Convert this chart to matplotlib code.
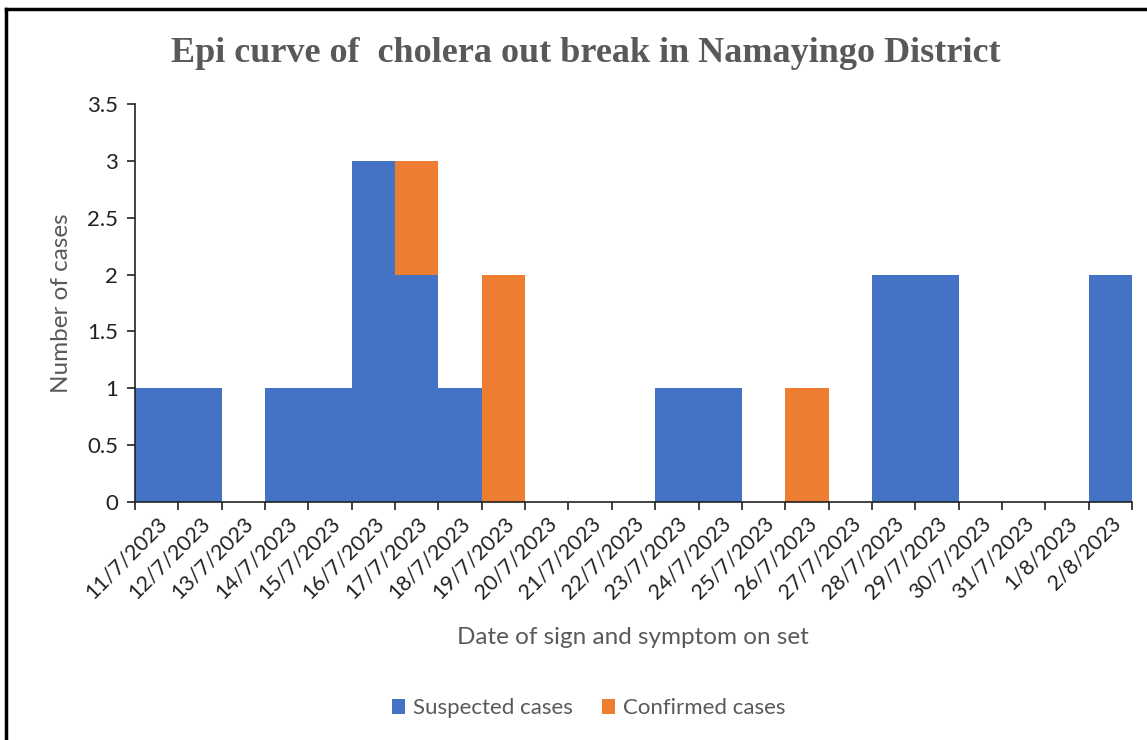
import matplotlib.pyplot as plt
from matplotlib.lines import Line2D

dates = ['11/7/2023', '12/7/2023', '13/7/2023', '14/7/2023', '15/7/2023',
         '16/7/2023', '17/7/2023', '18/7/2023', '19/7/2023', '20/7/2023',
         '21/7/2023', '22/7/2023', '23/7/2023', '24/7/2023', '25/7/2023',
         '26/7/2023', '27/7/2023', '28/7/2023', '29/7/2023', '30/7/2023',
         '31/7/2023', '1/8/2023', '2/8/2023']
suspected = [1, 1, 0, 1, 1, 3, 2, 1, 0, 0, 0, 0, 1, 1, 0, 0, 0, 2, 2, 0, 0, 0, 2]
confirmed = [0, 0, 0, 0, 0, 0, 1, 0, 2, 0, 0, 0, 0, 0, 0, 1, 0, 0, 0, 0, 0, 0, 0]

blue = '#4472C4'
orange = '#ED7D31'
gray = '#595959'
font = 'Lato'

fig = plt.figure(figsize=(11.47, 7.4), dpi=100)
ax = fig.add_axes([0.1177, 0.3216, 0.8692, 0.5378])

x = list(range(len(dates)))
ax.bar(x, suspected, width=1.0, color=blue, label='Suspected cases')
ax.bar(x, confirmed, width=1.0, bottom=suspected, color=orange, label='Confirmed cases')

ax.set_xlim(-0.5, len(dates) - 0.5)
ax.set_ylim(0, 3.5)
ax.set_yticks([0, 0.5, 1, 1.5, 2, 2.5, 3, 3.5])
ax.set_yticklabels(['0', '0.5', '1', '1.5', '2', '2.5', '3', '3.5'],
                   fontsize=16, family=font, color='#222222')

# ticks at category boundaries, labels at centres
ax.set_xticks([i - 0.5 for i in range(len(dates) + 1)])
ax.set_xticklabels([])
ax.set_xticks(x, minor=True)
ax.set_xticklabels(dates, minor=True, rotation=45, ha='right', va='top',
                   rotation_mode='anchor', fontsize=15.5, family=font, color='#222222')
ax.tick_params(axis='x', which='minor', length=0, pad=8)
ax.tick_params(axis='x', which='major', length=6, width=1.2, color='#222222')
ax.tick_params(axis='y', length=6, width=1.2, color='#222222', pad=6)

for s in ['top', 'right']:
    ax.spines[s].set_visible(False)
for s in ['left', 'bottom']:
    ax.spines[s].set_linewidth(1.2)
    ax.spines[s].set_color('#222222')

ax.set_ylabel('Number of cases', fontsize=17.5, family=font, color=gray, labelpad=11)
fig.text(0.552, 0.139, 'Date of sign and symptom on set', ha='center', va='center',
         fontsize=17.5, family=font, color=gray)

fig.suptitle('Epi curve of  cholera out break in Namayingo District', x=0.511, y=0.95,
             fontsize=26, family='Liberation Serif', color=gray, fontweight='semibold')

ax.legend(loc='center', bbox_to_anchor=(0.455, -0.518), ncol=2, frameon=False,
          prop={'family': font, 'size': 16}, handlelength=0.6, handleheight=0.7,
          columnspacing=1.3, handletextpad=0.35, labelcolor=gray)

fig.add_artist(Line2D([0.0052, 0.0052], [0, 0.988], color='black', lw=2.5,
                      transform=fig.transFigure))
fig.add_artist(Line2D([0.0052, 1.0], [0.988, 0.988], color='black', lw=2.5,
                      transform=fig.transFigure))

fig.savefig('out.png', dpi=100)
